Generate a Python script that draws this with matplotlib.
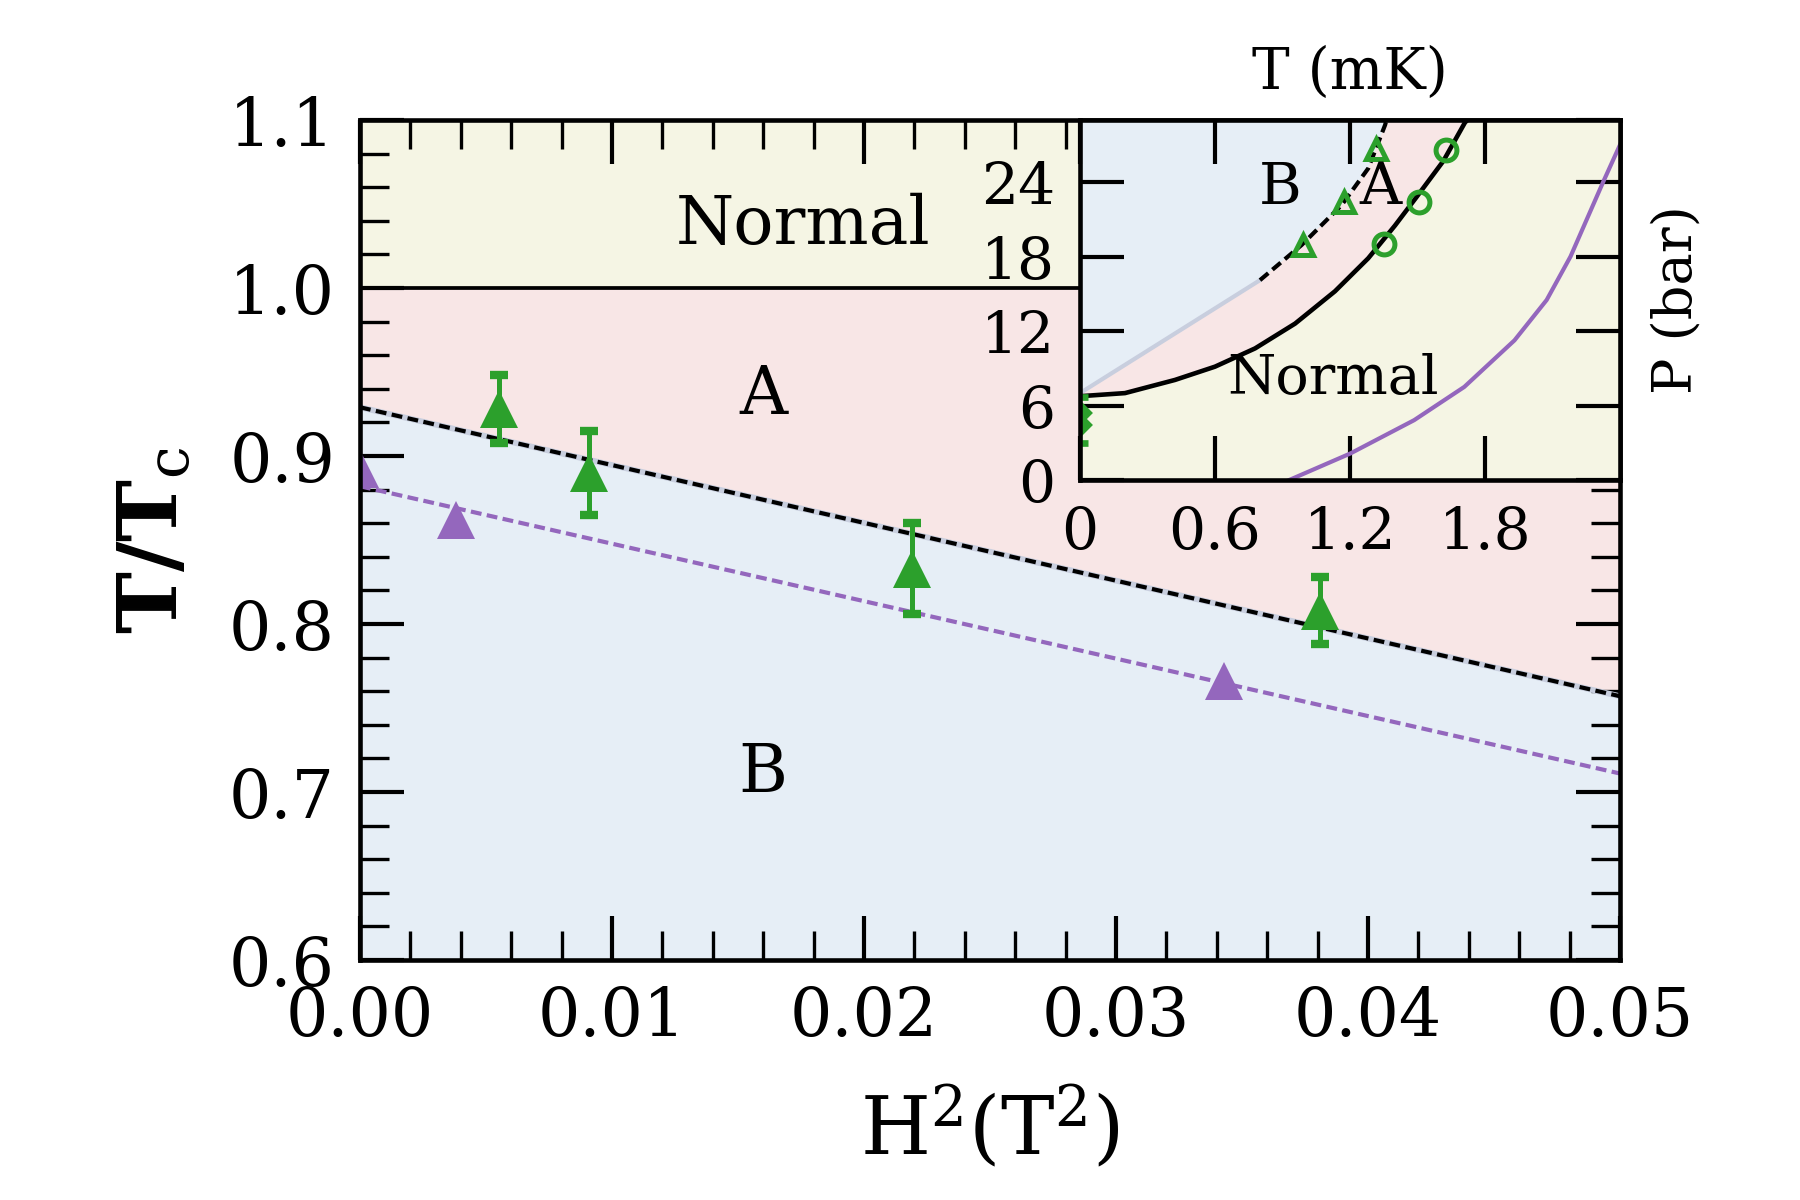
import matplotlib
matplotlib.use("Agg")
from matplotlib import pyplot as plt
from matplotlib.ticker import MultipleLocator, FormatStrFormatter

# main panel data: T/Tc versus H^2
h2_purple = [0.0, 0.0038, 0.0343]
t_purple = [0.892, 0.862, 0.766]
h2_green = [0.0055, 0.0091, 0.0219, 0.0381]
t_green = [0.928, 0.890, 0.833, 0.808]
err_green = [0.020, 0.025, 0.027, 0.020]
fit_h2 = [0.0, 0.05]
fit_ab = [0.929, 0.757]      # A-B boundary (black dashed)
fit_purple = [0.882, 0.711]  # purple dashed

# inset data: P (bar) versus T (mK)
tc_T = [0.0, 0.2, 0.422, 0.6, 0.778, 0.956, 1.133, 1.281, 1.40, 1.496, 1.615, 1.711, 1.722]
tc_P = [6.75, 7.0, 8.06, 9.13, 10.6, 12.6, 15.2, 17.86, 20.5, 22.8, 25.7, 28.8, 29.0]
ab_T = [0.0, 0.80, 0.985, 1.163, 1.281, 1.356, 1.362]
ab_P = [7.0, 16.1, 18.93, 22.15, 25.1, 28.6, 29.0]
pu_T = [0.93, 1.202, 1.485, 1.708, 1.931, 2.074, 2.18, 2.325, 2.40]
pu_P = [0.0, 2.14, 4.82, 7.5, 11.25, 14.5, 18.0, 24.0, 27.0]
tri_T = [0.993, 1.175, 1.314]
tri_P = [18.93, 22.4, 26.7]
circ_T = [1.353, 1.508, 1.625]
circ_P = [18.99, 22.4, 26.6]
low_T = [0.0, 0.0]
low_P = [5.37, 4.43]
low_err_minus = [0.0, 1.43]
low_err_plus = [1.34, 0.0]

c_norm = "#f5f5e4"
c_a = "#f8e6e6"
c_b = "#e6eef6"
c_edge = "#c8cede"
green = "#2ca02c"
purple = "#9467bd"

plt.rcParams["font.family"] = "DejaVu Serif"
plt.rcParams["mathtext.fontset"] = "dejavuserif"

fig = plt.figure(figsize=(6, 4), dpi=300)
ax = fig.add_axes([0.2, 0.2, 0.7, 0.7])

ax.axhspan(1.0, 1.1, color=c_norm, lw=0)
ax.fill_between(fit_h2, fit_ab, 1.0, color=c_a, lw=0)
ax.fill_between(fit_h2, 0.6, fit_ab, color=c_b, lw=0)
ax.axhline(1.0, color="black", lw=0.9)
ax.plot(fit_h2, fit_ab, color=c_edge, lw=1.4)
ax.plot(fit_h2, fit_ab, "--", color="black", lw=1.0, dashes=(2.6, 1.3))
ax.plot(fit_h2, fit_purple, "--", color=purple, lw=1.0, dashes=(2.6, 1.3))
ax.plot(h2_purple, t_purple, "^", color=purple, ms=9, mec="none")
ax.errorbar(h2_green, t_green, yerr=err_green, fmt="^", color=green, ms=9,
            mec="none", capsize=2.2, capthick=2, elinewidth=1.2)

ax.text(0.0176, 1.037, "Normal", fontsize=16, ha="center", va="center")
ax.text(0.016, 0.936, "A", fontsize=16, ha="center", va="center")
ax.text(0.016, 0.711, "B", fontsize=16, ha="center", va="center")

ax.set_xlim(0, 0.05)
ax.set_ylim(0.6, 1.1)
ax.xaxis.set_major_locator(MultipleLocator(0.01))
ax.xaxis.set_minor_locator(MultipleLocator(0.002))
ax.yaxis.set_major_locator(MultipleLocator(0.1))
ax.yaxis.set_minor_locator(MultipleLocator(0.02))
ax.xaxis.set_major_formatter(FormatStrFormatter("%.2f"))
ax.yaxis.set_major_formatter(FormatStrFormatter("%.1f"))
ax.tick_params(which="both", direction="in", top=True, right=True, labelsize=16)
ax.tick_params(which="major", length=10.5, width=1.0, pad=6)
ax.tick_params(which="minor", length=7, width=0.8)
for s in ax.spines.values():
    s.set_linewidth(1.1)
ax.set_xlabel("H$^2$(T$^2$)", fontsize=19.3, labelpad=8)
ax.set_ylabel(r"T/T$_\mathrm{c}$", fontsize=20, fontweight="bold", labelpad=8)

# inset: pressure-temperature phase diagram
ins = fig.add_axes([0.6, 0.6, 0.3, 0.3])
ins.set_facecolor(c_norm)
poly_b_T = [0.0] + ab_T + [0.0]
poly_b_P = [ab_P[0]] + ab_P + [29.0]
ins.fill(poly_b_T, poly_b_P, color=c_b, lw=0)
poly_a_T = ab_T + tc_T[::-1]
poly_a_P = ab_P + tc_P[::-1]
ins.fill(poly_a_T, poly_a_P, color=c_a, lw=0)
ins.plot(ab_T[:2], ab_P[:2], color=c_edge, lw=1.0)
ins.plot(ab_T[1:], ab_P[1:], "--", color="black", lw=1.0, dashes=(2.6, 1.3))
ins.plot(tc_T, tc_P, color="black", lw=1.1)
ins.plot(pu_T, pu_P, color=purple, lw=1.0)
ins.plot(tri_T, tri_P, "^", mfc="none", mec=green, mew=1.2, ms=5)
ins.plot(circ_T, circ_P, "o", mfc="none", mec=green, mew=1.2, ms=5)
ins.errorbar(low_T, low_P, yerr=[low_err_minus, low_err_plus], fmt="D",
             color=green, ms=3.5, capsize=1.8, capthick=1.6, elinewidth=1.0)
ins.text(0.89, 23.5, "B", fontsize=14, ha="center", va="center")
ins.text(1.336, 23.5, "A", fontsize=14, ha="center", va="center")
ins.text(1.123, 8.1, "Normal", fontsize=13.3, ha="center", va="center")

ins.set_xlim(0, 2.4)
ins.set_ylim(0, 29)
ins.set_xticks([0, 0.6, 1.2, 1.8])
ins.set_xticklabels(["0", "0.6", "1.2", "1.8"])
ins.set_yticks([0, 6, 12, 18, 24])
ins.tick_params(direction="in", top=True, right=True, labelsize=14,
                length=10.5, width=1.0, pad=6)
for s in ins.spines.values():
    s.set_linewidth(1.1)
ins.xaxis.set_label_position("top")
ins.set_xlabel("T (mK)", fontsize=13.6, labelpad=7.5)
ins.yaxis.set_label_position("right")
ins.set_ylabel("P (bar)", fontsize=13, labelpad=7.3)

fig.savefig("out.png", dpi=300)
